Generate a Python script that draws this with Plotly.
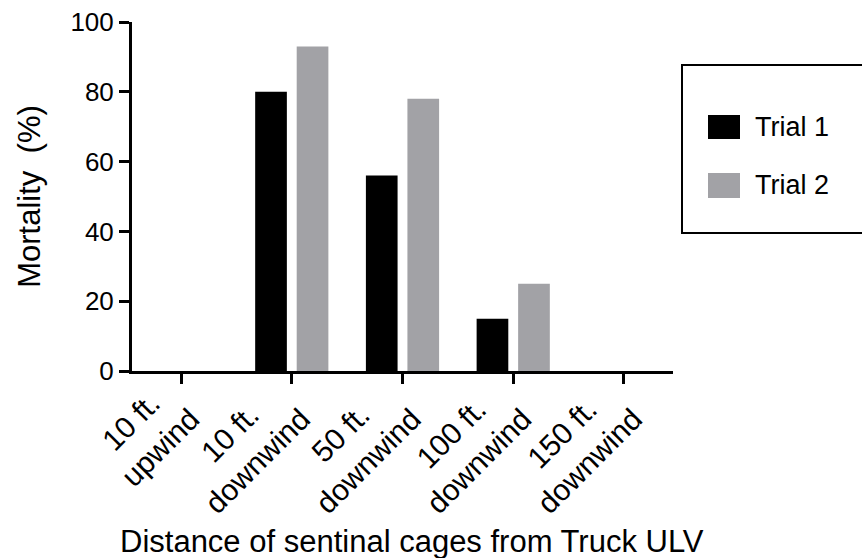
import plotly.graph_objects as go

NB = "\u00a0"
categories = ["10 ft. upwind", "10 ft. downwind", "50 ft. downwind", "100 ft. downwind", "150 ft. downwind"]
tick_line1 = ["10 ft.", "10 ft.", "50 ft.", "100 ft.", "150 ft."]
tick_line2 = ["upwind", "downwind", "downwind", "downwind", "downwind"]
trial1 = [0, 80, 56, 15, 0]
trial2 = [0, 93, 78, 25, 0]
series_names = ["Trial 1", "Trial 2"]
y_ticks = [0, 20, 40, 60, 80, 100]

# trailing no-break spaces so the two lines of each rotated label look centred
pad = [2, 4, 4, 3, 3]
tick_labels = [a + NB * p + "<br>" + b for a, b, p in zip(tick_line1, tick_line2, pad)]

FONT = "Arial, Liberation Sans, Helvetica, sans-serif"
BLACK = "#000000"
GREY = "#a2a2a6"

W, H = 862, 558
L, R, T, B = 132, 862 - 673, 22, 558 - 371
pw, ph = W - L - R, H - T - B

def px_x(px):
    return (px - L) / pw

def px_y(py):
    return (H - B - py) / ph

xs = list(range(len(categories)))

fig = go.Figure()
fig.add_trace(go.Bar(x=xs, y=trial1, name=series_names[0], marker=dict(color=BLACK, line=dict(width=0))))
fig.add_trace(go.Bar(x=xs, y=trial2, name=series_names[1], marker=dict(color=GREY, line=dict(width=0))))

fig.update_layout(
    width=W, height=H,
    margin=dict(l=L, r=R, t=T, b=B, pad=0, autoexpand=False),
    paper_bgcolor="white", plot_bgcolor="white",
    barmode="group", bargap=0.25, bargroupgap=0.237,
    showlegend=False,
    font=dict(family=FONT, color="black", size=26),
)
fig.update_xaxes(
    range=[-0.443, 4.443], tickmode="array", tickvals=xs, ticktext=tick_labels,
    tickangle=-45, tickfont=dict(size=30, family=FONT, color="black"),
    ticklabelstandoff=-22, ticklabelshift=-18,
    showline=True, linecolor="black", linewidth=3,
    ticks="outside", ticklen=10, tickwidth=3, tickcolor="black",
    showgrid=False, zeroline=False, fixedrange=True, automargin=False,
)
fig.update_yaxes(
    range=[0, 100], tickmode="array", tickvals=y_ticks,
    tickfont=dict(size=26, family=FONT, color="black"),
    showline=True, linecolor="black", linewidth=3,
    ticks="outside", ticklen=10, tickwidth=3, tickcolor="black",
    showgrid=False, zeroline=False, fixedrange=True, automargin=False,
    title=dict(text="Mortality" + NB + " (%)", font=dict(size=31, family=FONT, color="black"), standoff=21),
)

# x-axis title
fig.add_annotation(
    text="Distance of sentinal cages from Truck ULV", xref="paper", yref="paper",
    x=px_x(412), y=px_y(541), xanchor="center", yanchor="middle", showarrow=False,
    font=dict(size=31, family=FONT, color="black"),
)

# legend box
fig.add_shape(type="rect", xref="paper", yref="paper",
              x0=px_x(682), x1=px_x(880), y0=px_y(233), y1=px_y(65),
              line=dict(color="black", width=2), fillcolor="rgba(0,0,0,0)")
legend_rows = [(series_names[0], BLACK, 115, 139), (series_names[1], GREY, 173, 198)]
for name, col, ytop, ybot in legend_rows:
    fig.add_shape(type="rect", xref="paper", yref="paper",
                  x0=px_x(708), x1=px_x(740), y0=px_y(ybot), y1=px_y(ytop),
                  line=dict(width=0), fillcolor=col)
    fig.add_annotation(text=name, xref="paper", yref="paper",
                       x=px_x(753), y=px_y((ytop + ybot) / 2), xanchor="left", yanchor="middle",
                       showarrow=False, font=dict(size=27, family=FONT, color="black"))

fig.write_html("out.html", config={"displayModeBar": False},
               post_script="document.body.style.margin='0';")
